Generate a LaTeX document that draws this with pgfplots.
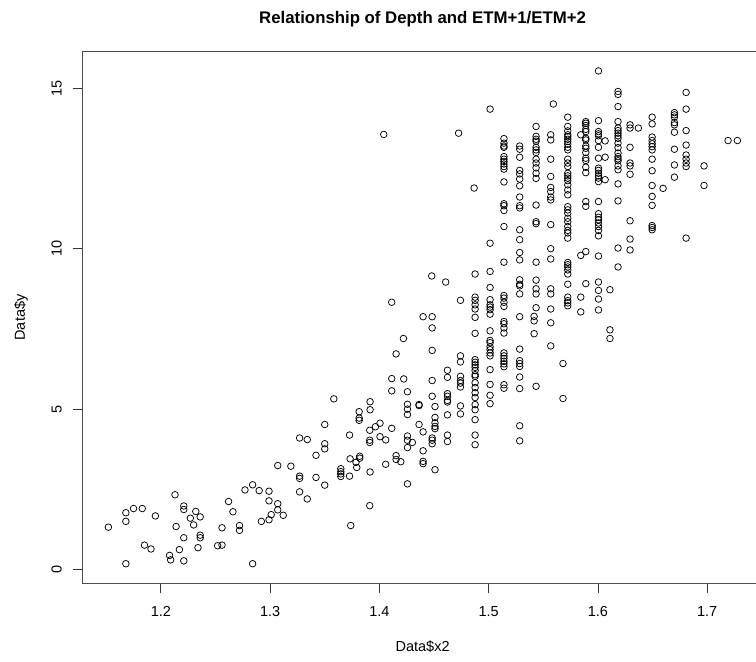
\documentclass[border=0pt]{standalone}
\usepackage{fontspec}
\setmainfont{Liberation Sans}
\usepackage{pgfplots}
\pgfplotsset{compat=1.18}

\begin{document}
\begin{tikzpicture}
\useasboundingbox (-82.7pt,-78.7pt) rectangle (673.3pt,583.3pt);
\begin{axis}[
  scale only axis,
  width=679.8pt, height=531.6pt,
  xmin=1.1285, xmax=1.7506,
  ymin=-0.43, ymax=16.14,
  clip mode=individual,
  axis line style={draw=none},
  tick align=outside,
  tick pos=left,
  major tick length=9.5pt,
  tick style={black!80, line width=0.8pt},
  xtick={1.2,1.3,1.4,1.5,1.6,1.7},
  xticklabels={1.2,1.3,1.4,1.5,1.6,1.7},
  ytick={0,5,10,15},
  yticklabels={0,5,10,15},
  xticklabel style={font=\fontsize{14.5}{16}\selectfont, anchor=base, yshift=-23.4pt},
  yticklabel style={font=\fontsize{14.5}{16}\selectfont, xshift=-11.5pt, rotate=90, anchor=base},
  title={Relationship of Depth and ETM+1/ETM+2},
  title style={font=\bfseries\fontsize{16.8}{18}\selectfont,
    at={([yshift=21.7pt]axis description cs:0.5,1)}, anchor=base},
  xlabel={Data\$x2},
  xlabel style={font=\fontsize{14.5}{16}\selectfont,
    at={([yshift=-67.7pt]axis description cs:0.5,0)}, anchor=base},
  ylabel={Data\$y},
  ylabel style={font=\fontsize{14.5}{16}\selectfont,
    at={([xshift=-57.7pt]axis description cs:0,0.5)}, anchor=base},
]
% plot frame (open on the right, where the device region ends)
\draw[black!70, line width=0.9pt] (rel axis cs:0,0) rectangle (rel axis cs:1,1);

\addplot[only marks, mark=o, mark size=3.3pt,
  mark options={line width=0.75pt, draw=black}] coordinates {
(1.152,1.32) (1.168,1.77) (1.168,1.50) (1.175,1.90) (1.183,1.90) (1.195,1.67)
(1.168,0.18) (1.185,0.76) (1.191,0.64) (1.213,2.33) (1.214,1.34) (1.221,1.98)
(1.221,1.87) (1.232,1.81) (1.227,1.60) (1.236,1.64) (1.230,1.39) (1.221,0.99)
(1.236,1.07) (1.236,0.99) (1.217,0.62) (1.234,0.68) (1.208,0.44) (1.209,0.30)
(1.221,0.27) (1.252,0.74) (1.256,0.76) (1.256,1.30) (1.262,2.12) (1.266,1.80)
(1.272,1.37) (1.272,1.22) (1.277,2.48) (1.284,2.64) (1.290,2.46) (1.299,2.44)
(1.299,2.14) (1.307,2.05) (1.307,1.86) (1.312,1.69) (1.301,1.71) (1.299,1.55)
(1.292,1.50) (1.284,0.18) (1.307,3.24) (1.319,3.22) (1.327,2.91) (1.327,2.84)
(1.327,2.42) (1.334,2.20) (1.327,4.10) (1.334,4.05)
(1.3583,5.32) (1.3915,5.23) (1.3915,4.98) (1.3815,4.92) (1.3815,4.72) (1.3815,4.65)
(1.3964,4.45) (1.3912,4.34) (1.3500,4.52) (1.3727,4.19) (1.3912,4.03) (1.3912,3.96)
(1.3500,3.92) (1.3500,3.76) (1.3420,3.56) (1.3732,3.45) (1.3820,3.53) (1.3820,3.47)
(1.3786,3.34) (1.3793,3.18) (1.3420,2.87) (1.3500,2.63) (1.3647,3.14) (1.3647,3.05)
(1.3647,2.98) (1.3647,2.90) (1.3727,2.91) (1.3915,3.04) (1.3738,1.37) (1.3912,1.99)
(1.4113,8.33) (1.4479,9.15) (1.4607,8.96) (1.4113,5.95) (1.4113,5.57) (1.4113,4.40)
(1.4223,5.94) (1.4220,7.20) (1.4153,6.72) (1.4006,4.56) (1.4006,4.14) (1.4058,4.04)
(1.4153,3.55) (1.4153,3.43) (1.4196,3.36) (1.4058,3.28) (1.4257,5.54) (1.4257,5.15)
(1.4257,5.00) (1.4257,4.83) (1.4257,4.16) (1.4257,4.03) (1.4257,3.80) (1.4257,2.67)
(1.4302,3.96) (1.4363,5.14) (1.4363,5.11) (1.4363,4.52) (1.4400,7.88) (1.4400,4.29)
(1.4400,3.70) (1.4400,3.37) (1.4400,3.30) (1.4483,7.88) (1.4483,7.53) (1.4483,6.83)
(1.4483,5.89) (1.4483,5.40) (1.4509,5.08) (1.4509,4.74) (1.4509,4.57) (1.4509,4.46)
(1.4509,4.39) (1.4483,4.10) (1.4483,4.03) (1.4483,3.92) (1.4509,3.11)
(1.4623,6.21) (1.4623,5.99) (1.4623,5.48) (1.4623,5.40) (1.4623,5.27) (1.4623,5.22)
(1.4623,4.82) (1.4623,4.19) (1.4623,3.99)
(1.4742,8.39) (1.4742,6.66) (1.4742,6.47) (1.4742,6.02) (1.4742,5.89) (1.4742,5.81)
(1.4742,5.69) (1.4742,5.10) (1.4742,4.85)
(1.4040,13.56) (1.4725,13.60) (1.4867,11.89)
(1.4876,9.21) (1.4876,8.49) (1.4876,8.39) (1.4876,8.25) (1.4876,8.12) (1.4876,7.86)
(1.4876,7.36) (1.4876,6.54) (1.4876,6.46) (1.4876,6.38) (1.4876,6.30) (1.4876,6.20)
(1.4876,6.07) (1.4876,6.02) (1.4876,5.82) (1.4876,5.67) (1.4876,5.51) (1.4876,5.36)
(1.4876,5.14) (1.4876,4.98) (1.4876,4.67) (1.4876,4.19) (1.4876,3.89)
(1.5013,14.35) (1.5013,10.17) (1.5013,9.29) (1.5013,8.79) (1.5013,8.41) (1.5013,8.25)
(1.5013,8.18) (1.5013,8.10) (1.5013,7.96) (1.5013,7.44) (1.5013,7.14) (1.5013,7.07)
(1.5013,6.94) (1.5013,6.85) (1.5013,6.75) (1.5013,6.66) (1.5013,6.23) (1.5013,5.77)
(1.5013,5.43) (1.5013,5.17)
(1.5140,13.43) (1.5140,13.29) (1.5140,13.20) (1.5140,13.16) (1.5140,12.87) (1.5140,12.79)
(1.5140,12.72) (1.5140,12.64) (1.5140,12.56) (1.5140,12.48) (1.5140,12.08) (1.5140,11.40)
(1.5140,11.34) (1.5140,11.19) (1.5140,10.69) (1.5140,9.58) (1.5140,8.54) (1.5140,8.46)
(1.5140,8.33) (1.5140,8.20) (1.5140,7.73) (1.5140,7.66) (1.5140,7.53) (1.5140,7.37)
(1.5140,6.75) (1.5140,6.66) (1.5140,6.58) (1.5140,6.49) (1.5140,6.41) (1.5140,6.32)
(1.5140,5.76) (1.5140,5.65)
(1.5284,13.20) (1.5284,13.10) (1.5284,12.85) (1.5284,12.44) (1.5284,12.33) (1.5284,12.17)
(1.5284,11.96) (1.5284,11.61) (1.5284,11.34) (1.5284,11.27) (1.5284,10.59) (1.5284,10.28)
(1.5284,9.88) (1.5284,9.65) (1.5284,9.03) (1.5284,8.89) (1.5284,8.84) (1.5284,8.59)
(1.5284,7.88) (1.5284,6.87) (1.5284,6.51) (1.5284,6.42) (1.5284,6.33) (1.5284,6.00)
(1.5284,5.64) (1.5284,4.48) (1.5284,4.01)
(1.5434,13.81) (1.5434,13.50) (1.5434,13.41) (1.5434,13.35) (1.5434,13.16) (1.5434,13.08)
(1.5434,13.00) (1.5434,12.79) (1.5434,12.67) (1.5434,12.52) (1.5434,12.35) (1.5434,12.19)
(1.5434,11.36) (1.5434,10.84) (1.5434,10.78) (1.5434,9.58) (1.5434,9.02) (1.5434,8.75)
(1.5434,8.59) (1.5434,8.16) (1.5434,5.71) (1.5416,7.89) (1.5416,7.75) (1.5416,7.35)
(1.5592,14.51)
(1.5568,13.55) (1.5568,13.39) (1.5568,12.79) (1.5568,12.25) (1.5568,11.91) (1.5568,11.78)
(1.5568,11.61) (1.5568,11.52) (1.5568,10.75) (1.5568,10.00) (1.5568,9.68) (1.5568,8.75)
(1.5568,8.59) (1.5568,8.12) (1.5568,7.69) (1.5568,6.97)
(1.5724,14.10) (1.5724,13.81) (1.5724,13.67) (1.5724,13.55) (1.5724,13.49) (1.5724,13.41)
(1.5724,13.34) (1.5724,13.26) (1.5724,13.16) (1.5724,13.08) (1.5724,12.79) (1.5724,12.67)
(1.5724,12.56) (1.5724,12.35) (1.5724,12.27) (1.5724,12.20) (1.5724,12.12) (1.5724,11.99)
(1.5724,11.83) (1.5724,11.68) (1.5724,11.31) (1.5724,11.21) (1.5724,11.11) (1.5724,10.95)
(1.5724,10.84) (1.5724,10.69) (1.5724,10.57) (1.5724,10.49) (1.5724,10.33) (1.5724,9.57)
(1.5724,9.50) (1.5724,9.43) (1.5724,9.34) (1.5724,9.21) (1.5724,8.89) (1.5724,8.49)
(1.5724,8.38) (1.5724,8.31) (1.5724,8.22)
(1.5680,6.42) (1.5680,5.33)
(1.5843,13.55) (1.5843,9.79) (1.5843,8.49) (1.5843,8.03)
(1.5889,13.96) (1.5889,13.91) (1.5889,13.84) (1.5889,13.72) (1.5889,13.65) (1.5889,13.44)
(1.5889,13.39) (1.5889,13.20) (1.5889,13.13) (1.5889,13.00) (1.5889,12.82) (1.5889,12.75)
(1.5889,12.54) (1.5889,12.37) (1.5889,11.47) (1.5889,11.32) (1.5889,9.91) (1.5889,8.91)
(1.6005,15.54) (1.6005,13.99) (1.6005,13.65) (1.6005,13.58) (1.6005,13.52) (1.6005,13.37)
(1.6005,13.16) (1.6005,12.82) (1.6005,12.51) (1.6005,12.44) (1.6005,12.35) (1.6005,12.27)
(1.6005,12.20) (1.6005,12.09) (1.6005,11.47) (1.6005,11.09) (1.6005,10.98) (1.6005,10.90)
(1.6005,10.80) (1.6005,10.69) (1.6005,10.57) (1.6005,10.40) (1.6005,9.77) (1.6005,8.96)
(1.6005,8.70) (1.6005,8.43) (1.6005,8.09)
(1.6066,13.36) (1.6066,12.85) (1.6066,12.15)
(1.6110,8.72) (1.6110,7.47) (1.6110,7.20)
(1.6184,14.90) (1.6184,14.81) (1.6184,14.43) (1.6184,13.96) (1.6184,13.76) (1.6184,13.68)
(1.6184,13.60) (1.6184,13.52) (1.6184,13.44) (1.6184,13.29) (1.6184,13.15) (1.6184,12.98)
(1.6184,12.87) (1.6184,12.80) (1.6184,12.74) (1.6184,12.58) (1.6184,12.46) (1.6184,12.02)
(1.6184,11.49) (1.6184,10.02) (1.6184,9.43)
(1.6294,13.86) (1.6294,13.76) (1.6294,13.16) (1.6294,12.67) (1.6294,12.58) (1.6294,12.32)
(1.6294,10.87) (1.6294,10.30) (1.6294,9.96)
(1.6370,13.76)
(1.6496,14.10) (1.6496,13.89) (1.6496,13.48) (1.6496,13.37) (1.6496,13.27) (1.6496,13.18)
(1.6496,13.08) (1.6496,12.79) (1.6496,12.43) (1.6496,11.97) (1.6496,11.63) (1.6496,11.35)
(1.6496,10.72) (1.6496,10.66) (1.6496,10.59)
(1.6596,11.88)
(1.6700,14.24) (1.6700,14.17) (1.6700,14.10) (1.6700,13.93) (1.6700,13.86) (1.6700,13.63)
(1.6700,13.10) (1.6700,12.61) (1.6700,12.23)
(1.6807,14.87) (1.6807,14.35) (1.6807,13.68) (1.6807,13.23) (1.6807,12.92) (1.6807,12.79)
(1.6807,12.67) (1.6807,12.56) (1.6807,10.33)
(1.6971,12.58) (1.6971,11.97)
(1.7191,13.37) (1.7276,13.37)
};
\end{axis}
\end{tikzpicture}
\end{document}
